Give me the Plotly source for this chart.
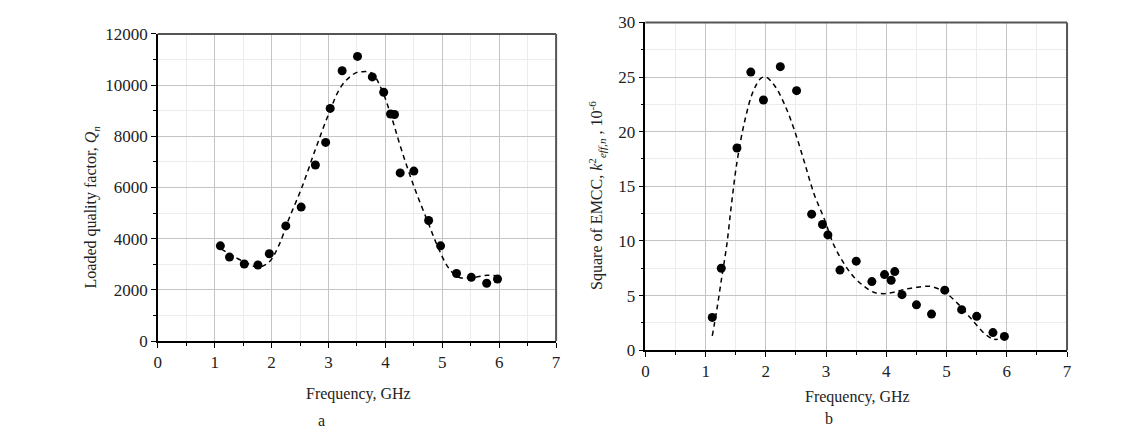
import plotly.graph_objects as go

# ---- Panel a: loaded quality factor ----
freq_a = [1.10, 1.26, 1.52, 1.76, 1.96, 2.25, 2.52, 2.77, 2.95, 3.03, 3.24, 3.51, 3.77, 3.97,
          4.09, 4.16, 4.26, 4.50, 4.76, 4.97, 5.25, 5.51, 5.78, 5.97]
q_a = [3720, 3280, 3010, 2970, 3410, 4500, 5235, 6880, 7760, 9090, 10560, 11120, 10320, 9720,
       8870, 8850, 6570, 6640, 4710, 3720, 2640, 2490, 2260, 2425]
fit_fa = [1.11, 1.37, 1.60, 1.76, 1.95, 2.13, 2.30, 2.53, 2.77, 3.00, 3.23, 3.47, 3.58, 3.76,
          3.93, 4.11, 4.28, 4.51, 4.75, 4.92, 5.10, 5.27, 5.45, 5.62, 5.80, 6.00]
fit_qa = [3600, 3260, 3010, 2890, 3070, 3750, 4750, 5990, 7490, 8850, 9970, 10470, 10520, 10470,
          9850, 8730, 7490, 5990, 4630, 3690, 2890, 2510, 2450, 2510, 2570, 2540]

# ---- Panel b: square of EMCC ----
freq_b = [1.11, 1.26, 1.52, 1.75, 1.96, 2.24, 2.51, 2.76, 2.94, 3.03, 3.23, 3.50, 3.76, 3.97,
          4.08, 4.14, 4.26, 4.50, 4.75, 4.97, 5.25, 5.50, 5.77, 5.96]
k_b = [3.0, 7.5, 18.5, 25.45, 22.9, 25.95, 23.75, 12.45, 11.5, 10.55, 7.33, 8.15, 6.28, 6.92,
       6.4, 7.19, 5.08, 4.15, 3.3, 5.49, 3.71, 3.1, 1.61, 1.26]
fit_fb = [1.11, 1.18, 1.26, 1.35, 1.43, 1.52, 1.65, 1.79, 1.92, 2.00, 2.14, 2.31, 2.47, 2.64,
          2.80, 2.97, 3.13, 3.30, 3.46, 3.63, 3.79, 3.96, 4.12, 4.29, 4.50, 4.72, 4.89, 5.00,
          5.19, 5.41, 5.63, 5.77, 5.85]
fit_kb = [1.3, 3.5, 6.4, 9.6, 13.4, 17.2, 21.0, 23.7, 24.9, 25.0, 24.25, 22.5, 20.2, 17.2,
          14.3, 12.0, 9.6, 7.9, 6.7, 5.85, 5.3, 5.17, 5.3, 5.55, 5.75, 5.85, 5.55, 5.2,
          4.24, 2.87, 1.52, 1.02, 1.0]

x_ticks = [0, 1, 2, 3, 4, 5, 6, 7]

FONT = "Liberation Serif"
fig = go.Figure()

dash = "5px,4px"
fig.add_trace(go.Scatter(x=fit_fa, y=fit_qa, mode="lines", line=dict(color="black", width=1.5, dash=dash, shape="spline"),
                         xaxis="x", yaxis="y", showlegend=False))
fig.add_trace(go.Scatter(x=freq_a, y=q_a, mode="markers", marker=dict(color="black", size=9),
                         xaxis="x", yaxis="y", showlegend=False))
fig.add_trace(go.Scatter(x=fit_fb, y=fit_kb, mode="lines", line=dict(color="black", width=1.5, dash=dash, shape="spline"),
                         xaxis="x2", yaxis="y2", showlegend=False))
fig.add_trace(go.Scatter(x=freq_b, y=k_b, mode="markers", marker=dict(color="black", size=9),
                         xaxis="x2", yaxis="y2", showlegend=False))

W, H = 1140, 442
def px(v): return v / W
def py(v): return 1 - v / H

common_x = dict(range=[0, 7], tickvals=x_ticks, ticks="outside", ticklen=5, tickwidth=1.2, tickcolor="black",
                showline=True, linecolor="black", linewidth=1.5, showgrid=True, gridcolor="#c4c4c4", gridwidth=1,
                zeroline=False, tickfont=dict(family=FONT, size=17, color="#222"),
                minor=dict(dtick=0.5, ticks="outside", ticklen=3, tickcolor="black", showgrid=True, gridcolor="#ececec"))
common_y = dict(ticks="outside", ticklen=5, tickwidth=1.2, tickcolor="black", tickformat="d",
                showline=True, linecolor="black", linewidth=1.5, showgrid=True, gridcolor="#c4c4c4", gridwidth=1,
                zeroline=False, tickfont=dict(family=FONT, size=17, color="#222"))

fig.update_layout(
    width=W, height=H, margin=dict(l=0, r=0, t=0, b=0),
    paper_bgcolor="white", plot_bgcolor="white",
    xaxis=dict(domain=[px(155), px(556.5)], anchor="y", **common_x),
    yaxis=dict(domain=[py(347), py(26)], anchor="x", range=[0, 12000], dtick=2000,
               minor=dict(dtick=1000, ticks="outside", ticklen=3, tickcolor="black", showgrid=True, gridcolor="#ececec"),
               **common_y),
    xaxis2=dict(domain=[px(646.5), px(1071.5)], anchor="y2", **common_x),
    yaxis2=dict(domain=[py(356.5), py(14)], anchor="x2", range=[0, 30], dtick=5,
                minor=dict(dtick=2.5, ticks="outside", ticklen=3, tickcolor="black", showgrid=True, gridcolor="#ececec"),
                **common_y),
)

# frame on top and right (dark grey)
for xr, yr in (("x domain", "y domain"), ("x2 domain", "y2 domain")):
    fig.add_shape(type="line", xref=xr, yref=yr, x0=0, x1=1, y0=1, y1=1, line=dict(color="#555", width=2))
    fig.add_shape(type="line", xref=xr, yref=yr, x0=1, x1=1, y0=0, y1=1, line=dict(color="#555", width=2))

ann_font = dict(family=FONT, size=16, color="#222")
fig.add_annotation(x=px(357), y=py(402), xref="paper", yref="paper", text="Frequency, GHz",
                   showarrow=False, font=ann_font, xanchor="center", yanchor="middle")
fig.add_annotation(x=px(860), y=py(405), xref="paper", yref="paper", text="Frequency, GHz",
                   showarrow=False, font=ann_font, xanchor="center", yanchor="middle")
fig.add_annotation(x=px(320), y=py(430), xref="paper", yref="paper", text="a",
                   showarrow=False, font=ann_font, xanchor="center", yanchor="middle")
fig.add_annotation(x=px(832), y=py(428), xref="paper", yref="paper", text="b",
                   showarrow=False, font=ann_font, xanchor="center", yanchor="middle")
fig.add_annotation(x=px(88), y=py(207), xref="paper", yref="paper",
                   text="Loaded quality factor, <i>Q</i><sub><i>n</i></sub>",
                   showarrow=False, font=ann_font, textangle=-90, xanchor="center", yanchor="middle")
fig.add_annotation(x=px(597), y=py(195), xref="paper", yref="paper",
                   text="Square of EMCC, <i>k</i><sup>2</sup><sub><i>eff,n</i></sub> , 10<sup>-6</sup>",
                   showarrow=False, font=ann_font, textangle=-90, xanchor="center", yanchor="middle")

fig.write_html("out.html")
